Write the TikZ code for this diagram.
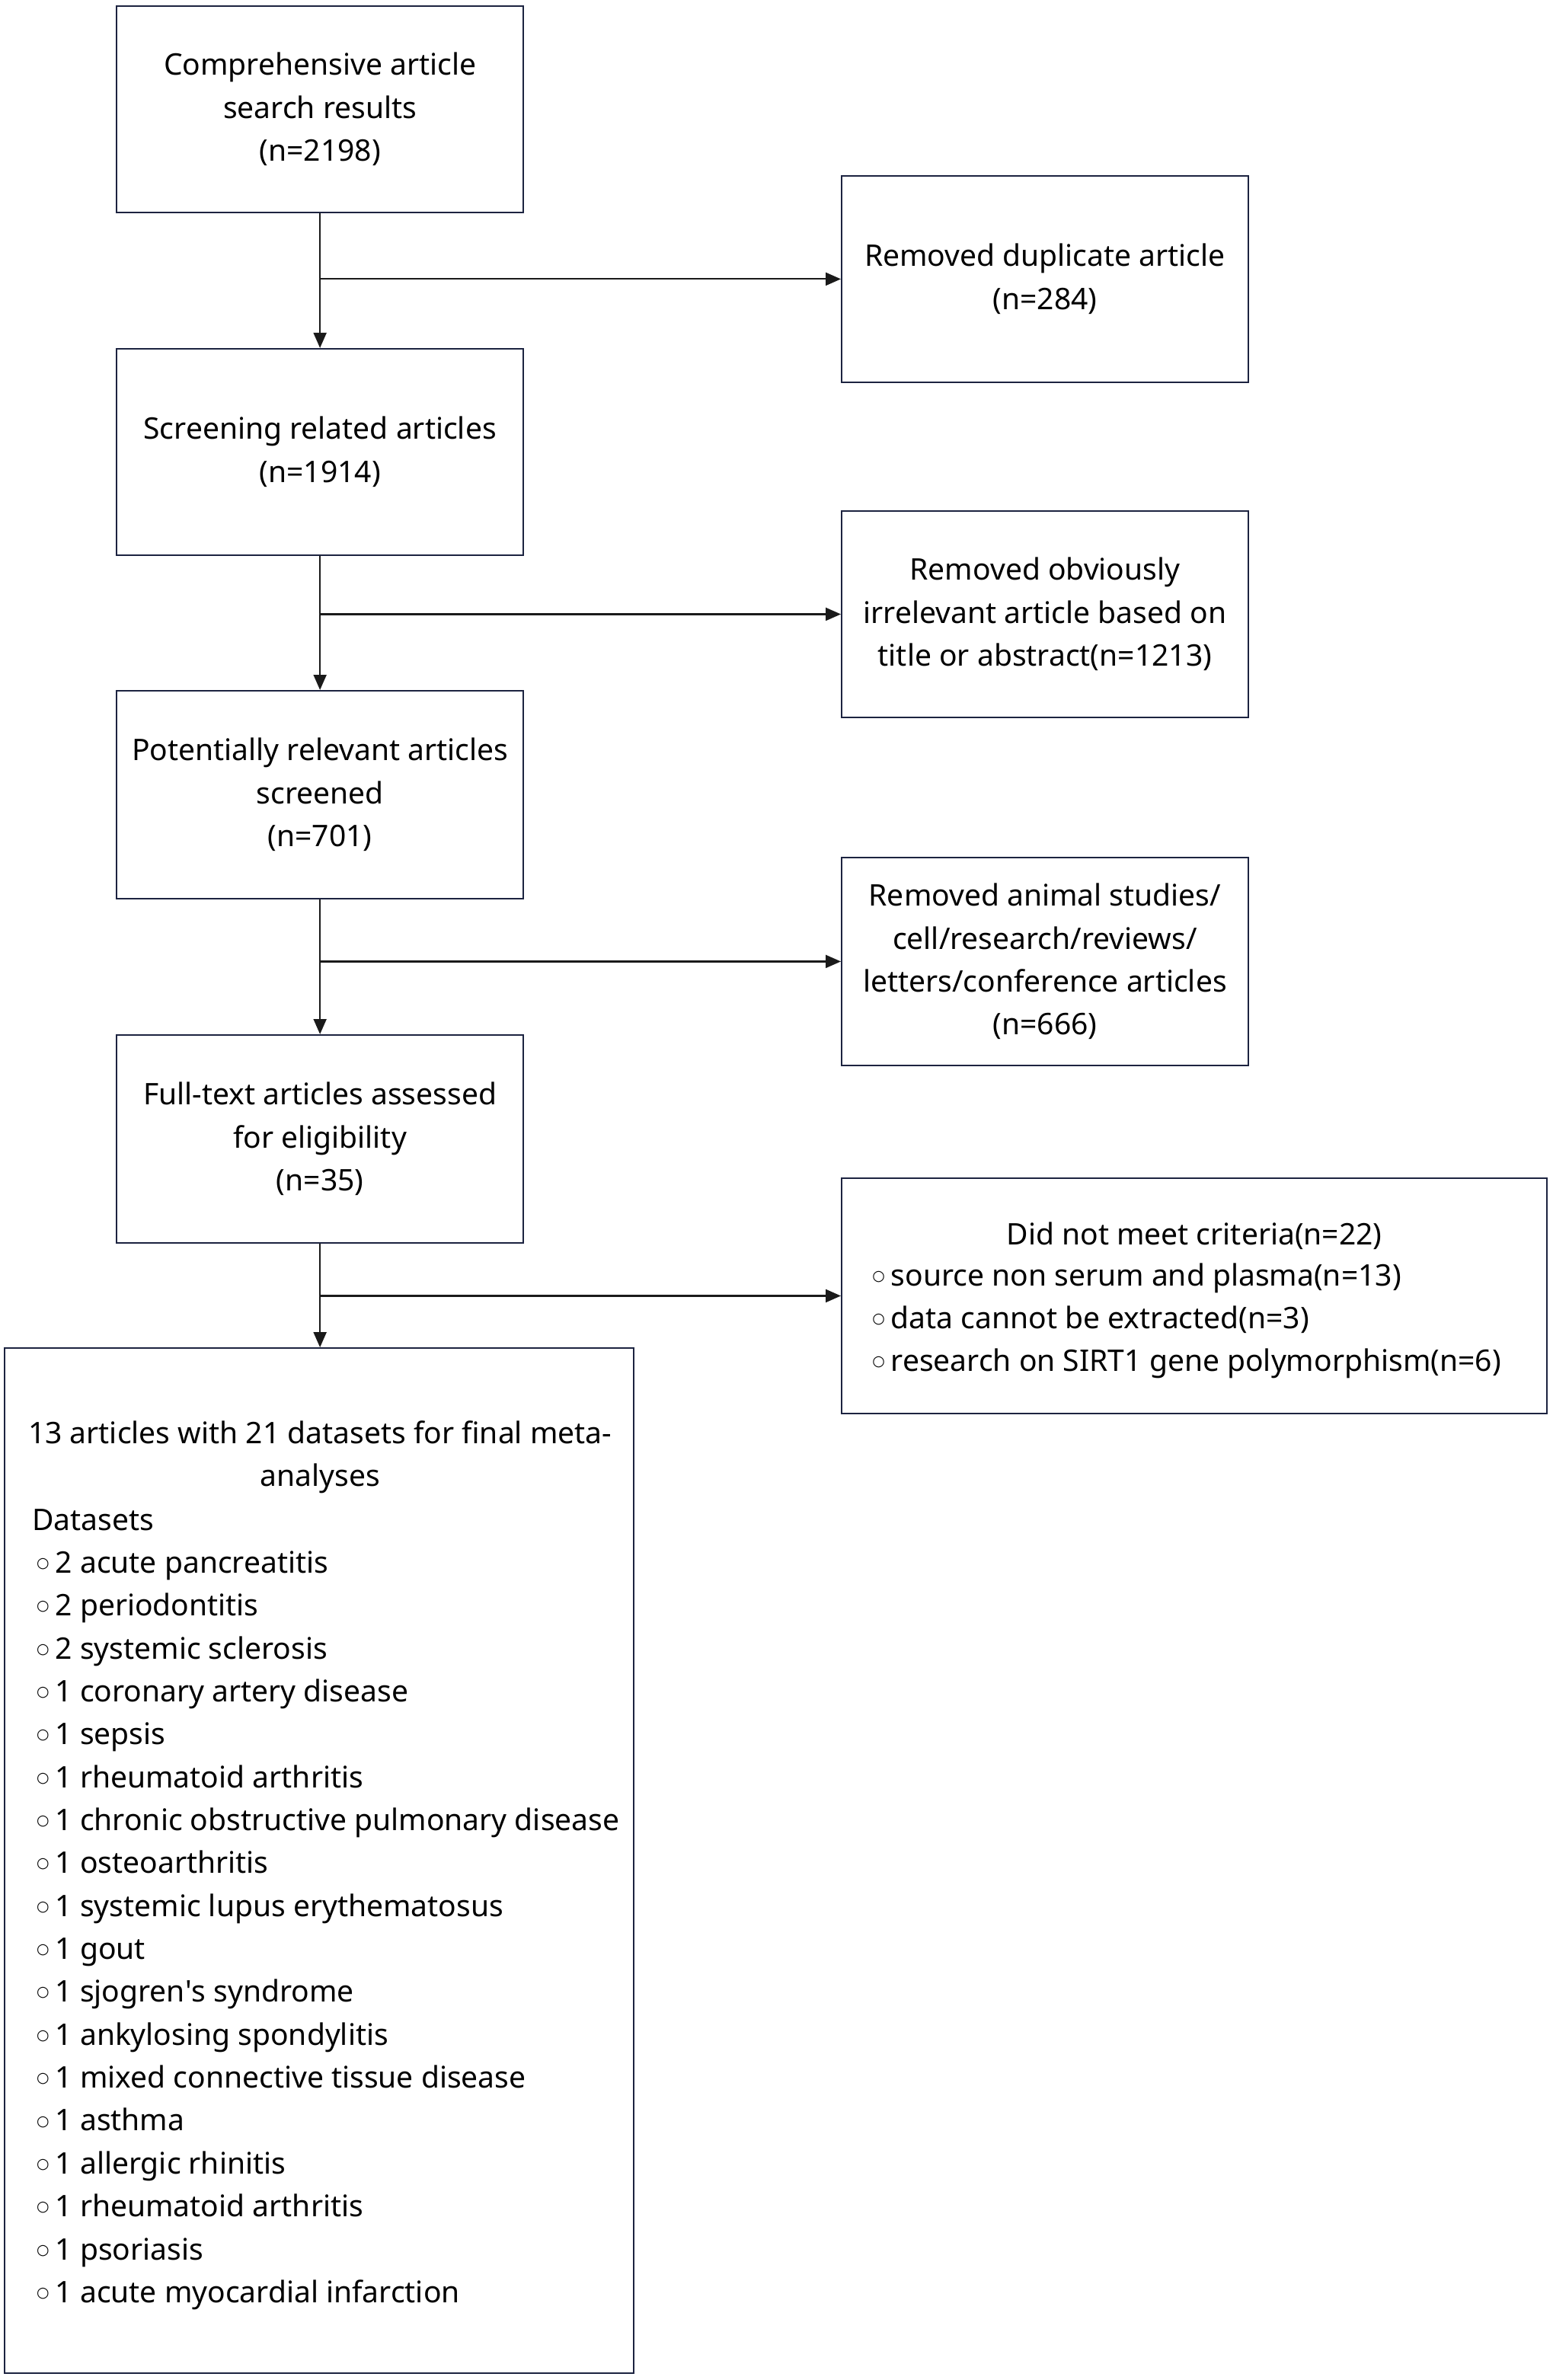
\documentclass[tikz,border=0pt]{standalone}
\usepackage{fontspec}
\setmainfont{Noto Sans}
\newfontfamily\nolig{Noto Sans}[Ligatures=ResetAll]
\newfontfamily\dejavu{DejaVu Sans}
\usetikzlibrary{arrows.meta}
\definecolor{boxc}{HTML}{1C2340}
\definecolor{arrc}{HTML}{1A1A1A}
\newcommand\bul{\hspace*{3pt}\raisebox{3.5pt}{\dejavu\fontsize{9.5}{9.5}\selectfont ○}\hspace{4pt}}
\begin{document}
\begin{tikzpicture}[x=1pt,y=-1pt,
  box/.style={draw=boxc, line width=1.1pt, inner sep=0pt, align=center,
    font=\fontsize{19.6}{28.3}\selectfont},
  sbox/.style={box, minimum width=268pt, minimum height=136pt},
  txt/.style={inner sep=0pt, font=\fontsize{19.6}{28.3}\selectfont},
  arr/.style={draw=arrc, line width=1.1pt, -{Triangle[length=10pt,width=8.5pt]}},
  ln/.style={draw=arrc, line width=1.1pt}]
\useasboundingbox (0,0) rectangle (1024,1569.4);
\node[sbox] (b1) at (211,72) {Comprehensive article\\search results\\(n=2198)};
\node[sbox] (r1) at (689,184) {Removed duplicate article\\(n=284)};
\node[sbox] (b2) at (211,298) {Screening related articles\\(n=1914)};
\node[sbox] (r2) at (689,405) {Removed obviously\\irrelevant article based on\\title or abstract(n=1213)};
\node[sbox, minimum height=137pt] (b3) at (211,524) {Potentially relevant articles\\screened\\(n=701)};
\node[sbox, minimum height=137pt] (r3) at (689,634) {Removed animal studies/\\cell/research/reviews/\\letters/conference articles\\(n=666)};
\node[sbox, minimum height=137pt] (b4) at (211,751) {Full-text articles assessed\\for eligibility\\(n=35)};
\node[box, minimum width=465pt, minimum height=155pt] (r4) at (787.5,854.5) {};
\node[txt] (r4t) at (787.5,815) {Did not meet criteria(n=22)};
\node[txt, anchor=west, align=left] (r4l) at (572,871) {\bul source non serum and plasma(n=13)\\\bul data cannot be extracted(n=3)\\\bul research on SIRT1 gene polymorphism(n=6)};
\node[box, minimum width=415pt, minimum height=676pt] (b5) at (210.5,1227) {};
\node[txt, align=center] (b5t) at (211,961) {13 articles with 21 datasets for final meta-\\analyses};
\node[txt, anchor=west, align=left] (b5l) at (21,1259) {Datasets\\\bul 2 acute pancreatitis\\\bul 2 periodontitis\\\bul 2 systemic sclerosis\\\bul 1 coronary artery disease\\\bul 1 sepsis\\\bul 1 rheumatoid arthritis\\\bul 1 chronic obstructive pulmonary disease\\\bul 1 osteoarthritis\\\bul 1 systemic lupus erythematosus\\\bul 1 gout\\\bul 1 sjogren{\nolig '}s syndrome\\\bul 1 ankylosing spondylitis\\\bul 1 mixed connective tissue disease\\\bul 1 asthma\\\bul 1 allergic rhinitis\\\bul 1 rheumatoid arthritis\\\bul 1 psoriasis\\\bul 1 acute myocardial infarction};
\coordinate (j1) at (b1.south |- r1.west);
\coordinate (j2) at (b2.south |- r2.west);
\coordinate (j3) at (b3.south |- r3.west);
\coordinate (j4) at (b4.south |- r4.west);
\draw[arr] (b1.south) -- (b2.north);
\draw[arr] (j1) -- (r1.west);
\draw[arr] (b2.south) -- (b3.north);
\draw[arr] (j2) -- (r2.west);
\draw[arr] (b3.south) -- (b4.north);
\draw[arr] (j3) -- (r3.west);
\draw[arr] (b4.south) -- (b4.south |- b5.north);
\draw[arr] (j4) -- (r4.west);
\end{tikzpicture}
\end{document}
